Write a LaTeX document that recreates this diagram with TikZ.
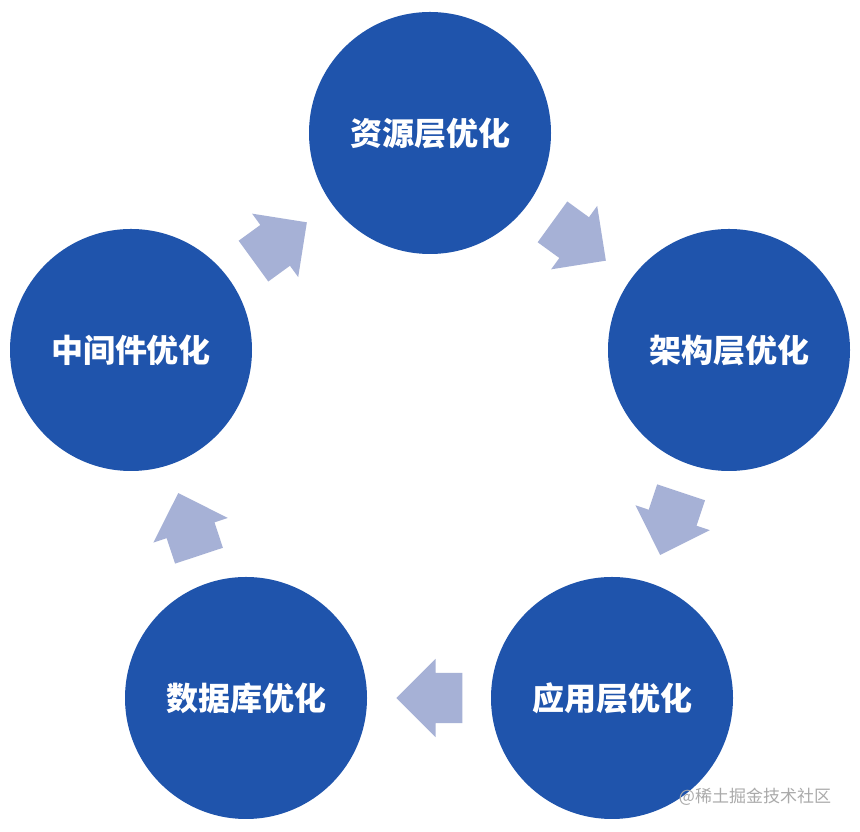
\documentclass[tikz,border=0pt]{standalone}
\usepackage{fontspec}
\usepackage{tikz}
\usetikzlibrary{shapes.arrows, calc}
\newfontfamily\cjk{Noto Sans CJK SC}
\definecolor{LayerBlue}{RGB}{31, 84, 172}
\definecolor{FlowGray}{RGB}{166, 177, 214}
\definecolor{MarkGray}{RGB}{170, 170, 170}

\tikzset{
  layer/.style={circle, fill=LayerBlue, minimum size=242pt, inner sep=0pt,
    text=white, font=\cjk\bfseries\fontsize{32}{36}\selectfont},
  flow/.style={single arrow, fill=FlowGray, draw=none, inner xsep=0pt, inner ysep=25pt,
    minimum height=66pt, minimum width=78pt, single arrow head extend=14pt,
    single arrow head indent=0pt}
}

\begin{document}
\begin{tikzpicture}[x=1pt,y=1pt]
  \path[use as bounding box] (0,0) rectangle (860,832);
  \fill[white] (0,0) rectangle (860,832);

  % Five layer circles
  \node[layer] (res)  at (430,699) {资源层优化};
  \node[layer] (arch) at (729,482) {架构层优化};
  \node[layer] (app)  at (612,134) {应用层优化};
  \node[layer] (db)   at (246,134) {数据库优化};
  \node[layer] (mid)  at (131,482) {中间件优化};

  % Block arrows between neighbours
  \foreach \a/\b/\ang in {mid/res/36, res/arch/-36, arch/app/-108.5,
    app/db/180, db/mid/108.3}{
    \node[flow, rotate=\ang] (f\a) at ($($(\a)!0.5!(\b)$)!13pt!(\a)$) {};
  }

  % Watermark
  \node[text=MarkGray, font=\cjk\fontsize{17}{20}\selectfont] (mark) at (755,35) {@稀土掘金技术社区};
\end{tikzpicture}
\end{document}
